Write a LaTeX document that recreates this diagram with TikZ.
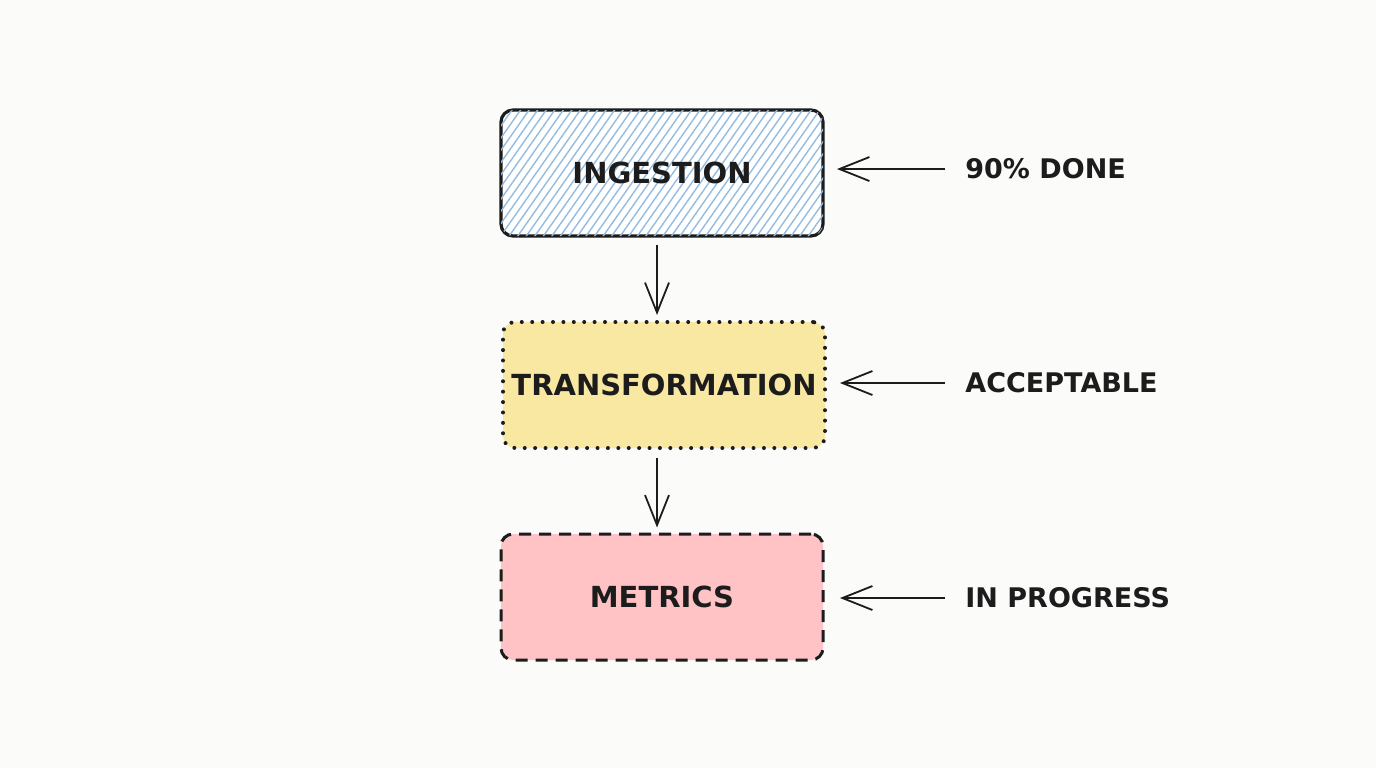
\documentclass[tikz,border=0pt]{standalone}
\usepackage{fontspec}
\setmainfont{DejaVu Sans}
\usetikzlibrary{arrows.meta, patterns.meta, positioning}

\definecolor{paper}{HTML}{FBFBFA}
\definecolor{ink}{HTML}{1C1C1C}
\definecolor{hatchblue}{HTML}{94BBE0}
\definecolor{sandfill}{HTML}{F9E8A2}
\definecolor{rosefill}{HTML}{FFC3C5}

\tikzset{
  stage/.style={rounded corners=6pt, minimum width=161pt, minimum height=63pt,
    text=ink, font=\fontsize{14.5}{17}\selectfont\bfseries, inner sep=0pt},
  note/.style={anchor=west, text=ink, inner sep=0pt,
    font=\fontsize{13.5}{16}\selectfont\bfseries},
  pointer/.style={draw=ink, line width=0.9pt,
    -{Straight Barb[length=15pt, width=12pt, line width=0.9pt]}},
}

\begin{document}
\begin{tikzpicture}[x=0.5pt, y=-0.5pt]

  % paper
  \fill[paper] (0,0) rectangle (1376,768);
  \useasboundingbox (0,0) rectangle (1376,768);

  % stages
  \node[stage, draw=ink, line width=1.6pt, fill=white,
        postaction={pattern={Lines[angle=55, distance=3.5pt, line width=0.7pt]},
                    pattern color=hatchblue}]
        (ing) at (662,173) {INGESTION};
  \node[stage, fill=sandfill, draw=ink, line width=2pt, line cap=round,
        dash pattern=on 0pt off 5.2pt]
        (trans) at (664,385) {TRANSFORMATION};
  \node[stage, fill=rosefill, draw=ink, line width=1.5pt,
        dash pattern=on 6pt off 4pt]
        (met) at (662,597) {METRICS};

  % status notes
  \node[note] (done) at (965,169) {90\% DONE};
  \node[note] (ok)   at (965,383) {ACCEPTABLE};
  \node[note] (prog) at (965,598) {IN PROGRESS};

  % flow
  \draw[pointer, shorten <=3.5pt, shorten >=2.5pt]
    ([xshift=-2.5pt]ing.south) -- ([xshift=-2.5pt]ing.south |- trans.north);
  \draw[pointer, shorten <=4pt, shorten >=2.5pt]
    ([xshift=-2.5pt]ing.south |- trans.south) -- ([xshift=-2.5pt]ing.south |- met.north);

  % notes point back
  \draw[pointer, shorten <=10pt] (done.west) -- (done.west -| {837,0});
  \draw[pointer, shorten <=10pt] (ok.west)   -- (ok.west -| {840,0});
  \draw[pointer, shorten <=10pt] (prog.west) -- (prog.west -| {840,0});

\end{tikzpicture}
\end{document}
